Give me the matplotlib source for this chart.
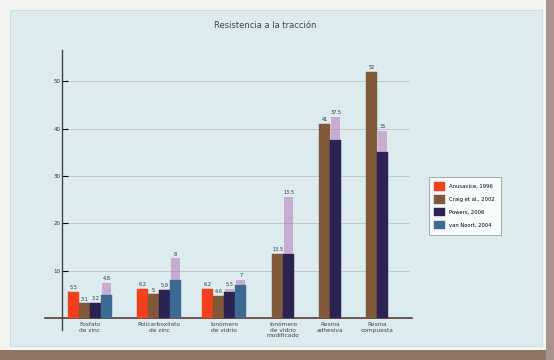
import numpy as np
import matplotlib
matplotlib.use("Agg")
import matplotlib.pyplot as plt
from matplotlib.patches import Rectangle

# ---- data ----
categories = ["Fosfato\nde zinc", "Policarboxilato\nde zinc", "Ionómero\nde vidrio",
              "Ionómero\nde vidrio\nmodificado", "Resina\nadhesiva", "Resina\ncompuesta"]
series_names = ["Anusavice, 1996", "Craig et al., 2002", "Powers, 2006", "van Noort, 2004"]
anusavice = [5.5, 6.2, 6.2, np.nan, np.nan, np.nan]
craig = [3.1, 5.0, 4.6, 13.5, 41.0, 52.0]
powers = [3.2, 5.9, 5.5, 13.5, 37.5, 35.0]
vannoort = [4.8, 8.0, 7.0, np.nan, np.nan, np.nan]
err_up = {
    "Anusavice, 1996": [0, 0, 0, 0, 0, 0],
    "Craig et al., 2002": [0, 0, 0, 0, 0, 0],
    "Powers, 2006": [0, 0, 0.6, 12.0, 5.0, 4.6],
    "van Noort, 2004": [2.6, 4.6, 1.0, 0, 0, 0],
}
yticks = [10, 20, 30, 40, 50]

# ---- layout ----
group_centers = np.array([0, 1.03, 2.0, 2.88, 3.58, 4.28])
bar_w = 0.165
offsets = np.array([-1.5, -0.5, 0.5, 1.5]) * bar_w
colors = ["#f2401c", "#80583a", "#2b2352", "#3d6a92"]

fig = plt.figure(figsize=(5.54, 3.6), dpi=100)
fig.patch.set_facecolor("#f3f4f2")
fig.add_artist(Rectangle((10/554, 1-346/360), 532/554, 336/360, transform=fig.transFigure,
                         facecolor="#dcebee", edgecolor="#d0dde0", lw=0.8, zorder=0))
fig.add_artist(Rectangle((0, 0), 1, 10/360, transform=fig.transFigure,
                         facecolor="#8e7464", edgecolor="none", zorder=0))
fig.add_artist(Rectangle((546/554, 0), 8/554, 1, transform=fig.transFigure,
                         facecolor="#a8948a", edgecolor="none", zorder=0))

ax = fig.add_axes([45/554, 1-330/360, 367/554, 280/360])
ax.set_facecolor("none")
ax.set_xlim(-0.67, 4.8)
ax.set_ylim(-2.5, 56.6)

for y in yticks:
    ax.plot([-0.42, 4.75], [y, y], color="#cbc4c4", lw=0.7, zorder=1)

all_series = [anusavice, craig, powers, vannoort]
for i, (name, vals) in enumerate(zip(series_names, all_series)):
    vals = np.array(vals, dtype=float)
    xs = group_centers + offsets[i]
    ax.bar(xs, vals, width=bar_w, color=colors[i], label=name, zorder=3,
           edgecolor=colors[i], linewidth=0.3)
    eu = np.array(err_up[name], dtype=float)
    for x, v, e in zip(xs, vals, eu):
        if np.isnan(v):
            continue
        if e > 0:
            ax.bar(x, e, bottom=v, width=bar_w*0.8, color="#b878b8", alpha=0.55,
                   zorder=3, linewidth=0)
        ax.text(x, v + e + 0.4, f"{v:g}", ha="center", va="bottom", fontsize=3.6,
                color="#333333", zorder=4)

ax.spines["top"].set_visible(False)
ax.spines["right"].set_visible(False)
ax.spines["left"].set_position(("data", -0.42))
ax.spines["bottom"].set_position(("data", 0))
ax.spines["left"].set_color("#444444")
ax.spines["bottom"].set_color("#5a3a3a")
ax.spines["bottom"].set_linewidth(1.2)
ax.spines["left"].set_linewidth(1.0)
ax.set_yticks(yticks)
ax.set_yticklabels([str(t) for t in yticks], fontsize=4, color="#333333")
ax.tick_params(axis="y", length=4, width=0.8, direction="in", pad=1)
ax.set_xticks(group_centers)
ax.set_xticklabels(categories, fontsize=4.2, color="#444444", linespacing=1.1)
ax.tick_params(axis="x", length=0, pad=3)

fig.text(265/554, 1-25/360, "Resistencia a la tracción", ha="center", va="center",
         fontsize=6, color="#444444")

leg = ax.legend(loc="upper left", bbox_to_anchor=(426/554, 1-174/360),
                bbox_transform=fig.transFigure, fontsize=3.8, frameon=True,
                fancybox=False, edgecolor="#888888", handlelength=2.0, handleheight=2.0,
                borderpad=1.1, labelspacing=0.9, handletextpad=0.8)
leg.get_frame().set_linewidth(0.6)
leg.get_frame().set_facecolor("white")

fig.savefig("out.png", dpi=100, facecolor=fig.get_facecolor())
